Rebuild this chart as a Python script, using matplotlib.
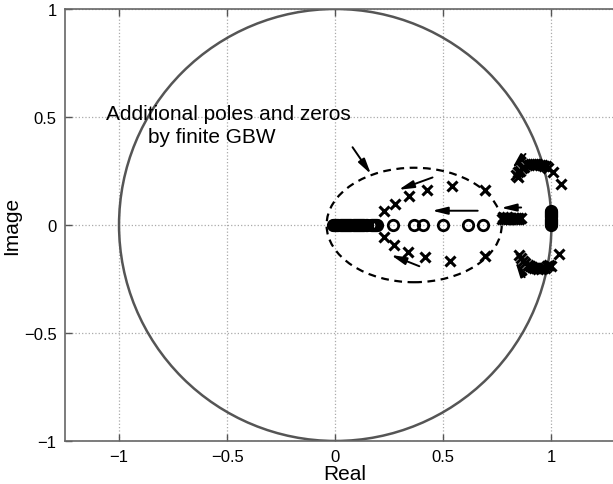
import numpy as np
import matplotlib
matplotlib.use("Agg")
import matplotlib.pyplot as plt
from matplotlib.patches import Circle, Ellipse

plt.rcParams['font.family'] = ['Liberation Sans', 'DejaVu Sans']

# poles inside the dashed ellipse (upper / lower half)
pole_in_x = [0.227, 0.276, 0.340, 0.424, 0.539, 0.694,
             0.224, 0.273, 0.335, 0.417, 0.532, 0.693]
pole_in_y = [0.066, 0.097, 0.133, 0.163, 0.179, 0.162,
             -0.057, -0.091, -0.123, -0.148, -0.165, -0.142]

# zeros on the real axis
zero_x = [0.265, 0.366, 0.404, 0.500, 0.613, 0.682]
zero_y = [0, 0, 0, 0, 0, 0]

# dense cluster of zeros near the origin
zero_cl_x = [-0.01, -0.005, 0.0, 0.005, 0.01, 0.015, 0.02, 0.025, 0.03, 0.035,
             0.04, 0.045, 0.05, 0.055, 0.06, 0.065, 0.07, 0.075, 0.08, 0.085,
             0.09, 0.095, 0.10, 0.105, 0.11, 0.115, 0.12, 0.125, 0.13, 0.135,
             0.14, 0.145, 0.165, 0.17, 0.175, 0.18, 0.185, 0.19, 0.195]
zero_cl_y = [0.0] * len(zero_cl_x)

# dense poles on real axis near 0.8
pole_ax_x = [0.772, 0.776, 0.78, 0.785, 0.79, 0.795, 0.80, 0.805, 0.81, 0.815,
             0.82, 0.825, 0.83, 0.835, 0.84, 0.845, 0.85, 0.857]
pole_ax_y = [0.030, 0.036, 0.026, 0.032, 0.030, 0.036, 0.026, 0.032, 0.030, 0.034,
             0.028, 0.032, 0.030, 0.034, 0.028, 0.032, 0.030, 0.032]

# stacked zeros at z = 1
zero_one_x = [1.0] * 14
zero_one_y = [0.0, 0.005, 0.01, 0.015, 0.02, 0.025, 0.03, 0.035, 0.04, 0.045,
              0.05, 0.055, 0.06, 0.065]

# upper arc of poles near the unit circle
arc_up_x = [0.835, 0.845, 0.845, 0.855, 0.865, 0.875, 0.885, 0.895, 0.905, 0.915,
            0.925, 0.935, 0.945, 0.955, 0.965, 0.975, 0.985, 1.006, 1.045]
arc_up_y = [0.232, 0.222, 0.246, 0.252, 0.262, 0.270, 0.276, 0.279, 0.281, 0.282,
            0.282, 0.281, 0.280, 0.278, 0.275, 0.271, 0.266, 0.244, 0.190]

# lower arc of poles near the unit circle
arc_lo_x = [0.852, 0.86, 0.87, 0.88, 0.89, 0.90, 0.91, 0.92, 0.93, 0.94,
            0.95, 0.96, 0.97, 0.98, 0.99, 0.998, 1.037]
arc_lo_y = [-0.140, -0.152, -0.165, -0.175, -0.183, -0.190, -0.195, -0.198, -0.201, -0.203,
            -0.203, -0.200, -0.197, -0.192, -0.186, -0.191, -0.134]

# arrows: (x_from, y_from, x_to, y_to)
arrows = [
    (0.08, 0.36, 0.165, 0.236),
    (0.45, 0.22, 0.293, 0.163),
    (0.659, 0.066, 0.448, 0.066),
    (0.389, -0.191, 0.258, -0.139),
    (0.86, 0.081, 0.767, 0.079),
    (0.88, 0.329, 0.818, 0.262),
    (0.876, -0.242, 0.833, -0.170),
]

ticks = [-1, -0.5, 0, 0.5, 1]
tick_labels = ['\u22121', '\u22120.5', '0', '0.5', '1']

fig = plt.figure(figsize=(6.13, 4.85), dpi=100)
ax = fig.add_axes([0.106, 0.0887, 0.9135, 0.8907])

ax.add_patch(Circle((0, 0), 1.0, fill=False, ec='#555555', lw=1.8, zorder=2))
ax.add_patch(Ellipse((0.365, 0.0), 0.81, 0.53, fill=False, ec='black', lw=1.6,
                     ls=(0, (3.5, 2.5)), zorder=3))

xkw = dict(ls='none', marker='x', ms=6.5, mew=2.2, color='black', zorder=4)
okw = dict(ls='none', marker='o', ms=7.5, mew=2.0, mfc='none', mec='black', zorder=4)

ax.plot(pole_in_x, pole_in_y, **xkw)
ax.plot(zero_x, zero_y, **okw)
ax.plot(zero_cl_x, zero_cl_y, **okw)
ax.plot(pole_ax_x, pole_ax_y, **xkw)
ax.plot(zero_one_x, zero_one_y, **okw)
ax.plot(arc_up_x, arc_up_y, **xkw)
ax.plot(arc_lo_x, arc_lo_y, **xkw)

for x0, y0, x1, y1 in arrows:
    ax.annotate('', xy=(x1, y1), xytext=(x0, y0),
                arrowprops=dict(arrowstyle='-|>,head_length=0.65,head_width=0.16',
                                color='black', lw=1.4,
                                mutation_scale=14, shrinkA=0, shrinkB=0),
                zorder=5)

ax.text(-1.06, 0.49, 'Additional poles and zeros', fontsize=15, ha='left', va='baseline')
ax.text(-0.866, 0.384, 'by finite GBW', fontsize=15, ha='left', va='baseline')

ax.set_xlim(-1.25, 1.34)
ax.set_ylim(-1, 1)
ax.set_xticks(ticks)
ax.set_xticklabels(tick_labels)
ax.set_yticks(ticks)
ax.set_yticklabels(tick_labels)
ax.tick_params(direction='in', length=5, width=1, color='#555555', labelsize=12,
               top=True, right=False, pad=6)
ax.grid(True, ls=':', color='#aaaaaa', lw=0.9)
ax.set_axisbelow(True)
for s in ax.spines.values():
    s.set_color('#666666')
    s.set_linewidth(1.2)
ax.spines['right'].set_visible(False)

ax.set_xlabel('Real', fontsize=15, labelpad=0)
ax.set_ylabel('Image', fontsize=15, labelpad=2)

fig.savefig('out.png', dpi=100)
